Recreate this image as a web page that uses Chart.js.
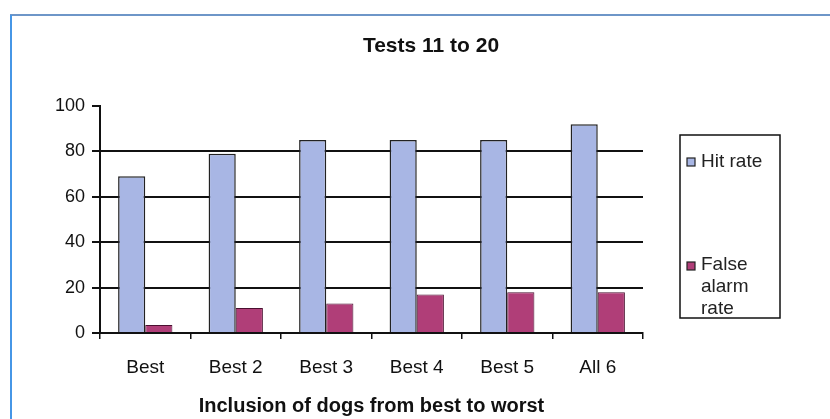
<!DOCTYPE html>
<html>
<head>
<meta charset="utf-8">
<script src="https://cdn.jsdelivr.net/npm/chart.js@4.4.0/dist/chart.umd.min.js"></script>
<style>
  html, body { margin: 0; padding: 0; background: #ffffff; }
  #wrap { position: relative; width: 830px; height: 419px; }
</style>
</head>
<body>
<div id="wrap"><canvas id="c" width="830" height="419"></canvas></div>
<script>
const categories = ["Best", "Best 2", "Best 3", "Best 4", "Best 5", "All 6"];
const hitRate = [69, 79, 85, 85, 85, 92];
const falseAlarmRate = [3.5, 11, 13, 17, 18, 18];
const yTicks = [0, 20, 40, 60, 80, 100];
const chartTitle = "Tests 11 to 20";
const xAxisTitle = "Inclusion of dogs from best to worst";
const legendHit = ["Hit rate"];
const legendFA = ["False", "alarm", "rate"];

const FONT = "'Liberation Sans', Arial, sans-serif";
const hitColor = "rgb(168,182,228)";
const faColor = "rgb(176,62,120)";

const decor = {
  id: 'decor',
  beforeDraw(chart) {
    const ctx = chart.ctx;
    ctx.save();
    ctx.fillStyle = '#fff';
    ctx.fillRect(0, 0, chart.width, chart.height);
    ctx.strokeStyle = 'rgb(110,150,200)';
    ctx.lineWidth = 2;
    ctx.beginPath();
    ctx.moveTo(10, 15); ctx.lineTo(830, 15);
    ctx.stroke();
    ctx.strokeStyle = 'rgb(70,150,230)';
    ctx.beginPath();
    ctx.moveTo(11, 15); ctx.lineTo(11, 419);
    ctx.stroke();
    ctx.restore();
  },
  afterDraw(chart) {
    const ctx = chart.ctx;
    ctx.save();
    ctx.fillStyle = '#111';
    ctx.font = "bold 21px " + FONT;
    ctx.textAlign = 'center';
    ctx.textBaseline = 'middle';
    ctx.fillText(chartTitle, 431, 46);
    ctx.strokeStyle = '#111';
    ctx.lineWidth = 1.5;
    ctx.strokeRect(680, 135, 100, 183);
    ctx.fillStyle = hitColor;
    ctx.fillRect(687, 158, 8, 8);
    ctx.strokeStyle = '#222';
    ctx.lineWidth = 1.2;
    ctx.strokeRect(687, 158, 8, 8);
    ctx.fillStyle = faColor;
    ctx.fillRect(687, 262, 8, 8);
    ctx.strokeRect(687, 262, 8, 8);
    ctx.fillStyle = '#222';
    ctx.font = "19px " + FONT;
    ctx.textAlign = 'left';
    legendHit.forEach((t, i) => ctx.fillText(t, 701, 162 + i * 22));
    legendFA.forEach((t, i) => ctx.fillText(t, 701, 265 + i * 22));
    ctx.restore();
  }
};

new Chart(document.getElementById('c'), {
  type: 'bar',
  data: {
    labels: categories,
    datasets: [
      { label: 'Hit rate', data: hitRate, backgroundColor: hitColor, borderColor: '#222', borderWidth: 1.5 },
      { label: 'False alarm rate', data: falseAlarmRate, backgroundColor: faColor, borderColor: '#4a1030', borderWidth: 1 }
    ]
  },
  options: {
    responsive: false,
    animation: false,
    layout: { padding: { left: 0, right: 187, top: 106, bottom: 0 } },
    plugins: { legend: { display: false }, title: { display: false }, tooltip: { enabled: false } },
    datasets: { bar: { categoryPercentage: 0.6, barPercentage: 1.0 } },
    scales: {
      x: {
        afterFit(s) { s.height = 86; },
        grid: { display: true, drawOnChartArea: false, drawTicks: true, tickLength: 6, color: '#111', lineWidth: 1.5 },
        border: { display: true, color: '#111', width: 2 },
        ticks: { color: '#111', font: { family: FONT, size: 19 }, padding: 17 },
        title: { display: true, text: xAxisTitle, color: '#111', font: { family: FONT, size: 20, weight: 'bold' }, padding: { top: 4, bottom: 1 } }
      },
      y: {
        min: 0, max: 100,
        afterFit(s) { s.width = 100; },
        afterBuildTicks(s) { s.ticks = yTicks.map(v => ({ value: v })); },
        grid: {
          color: (c) => (c.tick && c.tick.value === 100) ? 'rgba(0,0,0,0)' : '#111',
          tickColor: '#111',
          lineWidth: 2, drawTicks: true, tickLength: 8
        },
        border: { display: true, color: '#111', width: 2 },
        ticks: { color: '#111', font: { family: FONT, size: 18 }, padding: 7 }
      }
    }
  },
  plugins: [decor]
});
</script>
</body>
</html>
